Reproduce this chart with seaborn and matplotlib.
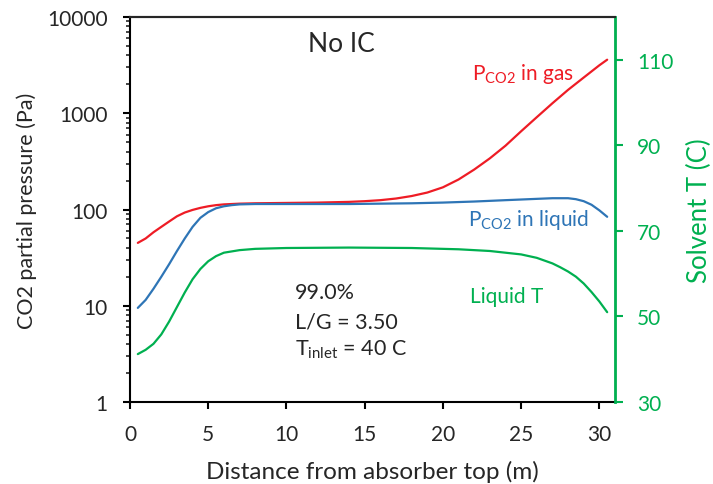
import numpy as np
import pandas as pd
import matplotlib
matplotlib.use('Agg')
import matplotlib.pyplot as plt
from matplotlib.ticker import LogLocator, NullFormatter, FixedLocator
import seaborn as sns

# values
x_gas = [0.5, 1, 1.5, 2, 2.5, 3, 3.5, 4, 4.5, 5, 5.5, 6, 7, 8, 10, 12, 14, 15, 16, 17,
         18, 19, 20, 21, 22, 23, 24, 25, 26, 27, 28, 29, 30, 30.5]
p_gas = [45, 50, 58, 66, 75, 85, 93, 99, 104, 108, 111, 113, 115, 116, 117, 118, 120, 122, 125, 130,
         138, 150, 170, 205, 260, 340, 460, 650, 910, 1270, 1750, 2350, 3150, 3600]

x_liq = [0.5, 1, 1.5, 2, 2.5, 3, 3.5, 4, 4.5, 5, 5.5, 6, 6.5, 7, 8, 10, 12, 14, 16, 18,
         20, 22, 24, 26, 27, 28, 28.5, 29, 29.5, 30, 30.5]
p_liq = [9.5, 11.5, 15, 20, 27, 37, 50, 66, 82, 94, 103, 108, 111, 113, 114, 114, 114, 114, 115, 116,
         118, 121, 125, 129, 131, 131, 128, 122, 112, 98, 84]

x_T = [0.5, 1, 1.5, 2, 2.5, 3, 3.5, 4, 4.5, 5, 5.5, 6, 7, 8, 10, 14, 18, 21, 23, 25,
       26, 27, 27.5, 28, 28.5, 29, 29.5, 30, 30.5]
T_liq = [41.2, 42.2, 43.6, 45.8, 48.8, 52.2, 55.6, 58.7, 61.1, 62.9, 64.1, 64.9, 65.5, 65.8, 66.0, 66.1, 66.0, 65.7, 65.3, 64.5,
         63.7, 62.4, 61.5, 60.5, 59.3, 57.7, 55.7, 53.5, 51.0]

x_ticks = [0, 5, 10, 15, 20, 25, 30]
T_ticks = [30, 50, 70, 90, 110]

RED = '#EE1C25'
BLUE = '#2E75B6'
GREEN = '#00B050'

sns.set_style('ticks')
plt.rcParams['font.family'] = ['Lato', 'DejaVu Sans']
plt.rcParams['mathtext.fontset'] = 'custom'
plt.rcParams['mathtext.rm'] = 'Lato'
plt.rcParams['mathtext.it'] = 'Lato'
plt.rcParams['mathtext.bf'] = 'Lato'

df_gas = pd.DataFrame({'x': x_gas, 'p': p_gas})
df_liq = pd.DataFrame({'x': x_liq, 'p': p_liq})
df_T = pd.DataFrame({'x': x_T, 'T': T_liq})

fig = plt.figure(figsize=(7.13, 4.85), dpi=100)
ax = fig.add_axes([130/713, 1-403/485, 485/713, 385/485])
ax2 = ax.twinx()

sns.lineplot(data=df_gas, x='x', y='p', ax=ax, color=RED, lw=1.6)
sns.lineplot(data=df_liq, x='x', y='p', ax=ax, color=BLUE, lw=1.6)
sns.lineplot(data=df_T, x='x', y='T', ax=ax2, color=GREEN, lw=1.6)

ax.set_yscale('log')
ax.set_ylim(1, 10000)
ax.set_xlim(0, 31)
ax.xaxis.set_major_locator(FixedLocator(x_ticks))
ax.set_yticks([1, 10, 100, 1000, 10000])
ax.set_yticklabels(['1', '10', '100', '1000', '10000'])
ax.yaxis.set_minor_locator(LogLocator(base=10, subs=np.arange(2, 10)))
ax.yaxis.set_minor_formatter(NullFormatter())

ax2.set_ylim(30, 120)
ax2.set_yticks(T_ticks)

fs = 15
ax.tick_params(axis='both', which='major', labelsize=fs, length=5, width=1.5, color='black', pad=11)
ax.tick_params(axis='y', which='minor', length=3, width=1.2)
ax2.tick_params(axis='y', labelsize=fs, length=6, width=1.5, color=GREEN, labelcolor=GREEN, pad=10)

for s in ['left', 'bottom', 'top']:
    ax.spines[s].set_linewidth(1.5)
    ax.spines[s].set_color('black')
ax2.spines['right'].set_color(GREEN)
ax2.spines['right'].set_linewidth(2)
ax2.spines['top'].set_linewidth(1.5)
ax2.spines['left'].set_visible(False)
ax2.spines['bottom'].set_visible(False)

ax.set_xlabel('Distance from absorber top (m)', fontsize=17.5, va='center')
ax.xaxis.set_label_coords(0.5, -0.179)
ax.set_ylabel('CO2 partial pressure (Pa)', fontsize=15.5, va='center')
ax.yaxis.set_label_coords(-0.212, 0.5)
ax2.set_ylabel('Solvent T (C)', fontsize=18.5, color=GREEN, va='center')
ax2.yaxis.set_label_coords(1.175, 0.5)

ax.text(0.367, 0.93, 'No IC', transform=ax.transAxes, fontsize=19, va='center', ha='left')
ax.text(0.705, 0.855, r'P$_{\mathrm{CO2}}$ in gas', transform=ax.transAxes, fontsize=15, color=RED, va='center', ha='left')
ax.text(0.697, 0.475, r'P$_{\mathrm{CO2}}$ in liquid', transform=ax.transAxes, fontsize=15, color=BLUE, va='center', ha='left')
ax.text(0.70, 0.275, 'Liquid T', transform=ax.transAxes, fontsize=15, color=GREEN, va='center', ha='left')
ax.text(0.34, 0.286, '99.0%', transform=ax.transAxes, fontsize=15.5, va='center', ha='left')
ax.text(0.34, 0.21, 'L/G = 3.50', transform=ax.transAxes, fontsize=15.5, va='center', ha='left')
ax.text(0.34, 0.138, r'T$_{\mathrm{inlet}}$ = 40 C', transform=ax.transAxes, fontsize=15.5, va='center', ha='left')

fig.savefig('out.png', dpi=100)
